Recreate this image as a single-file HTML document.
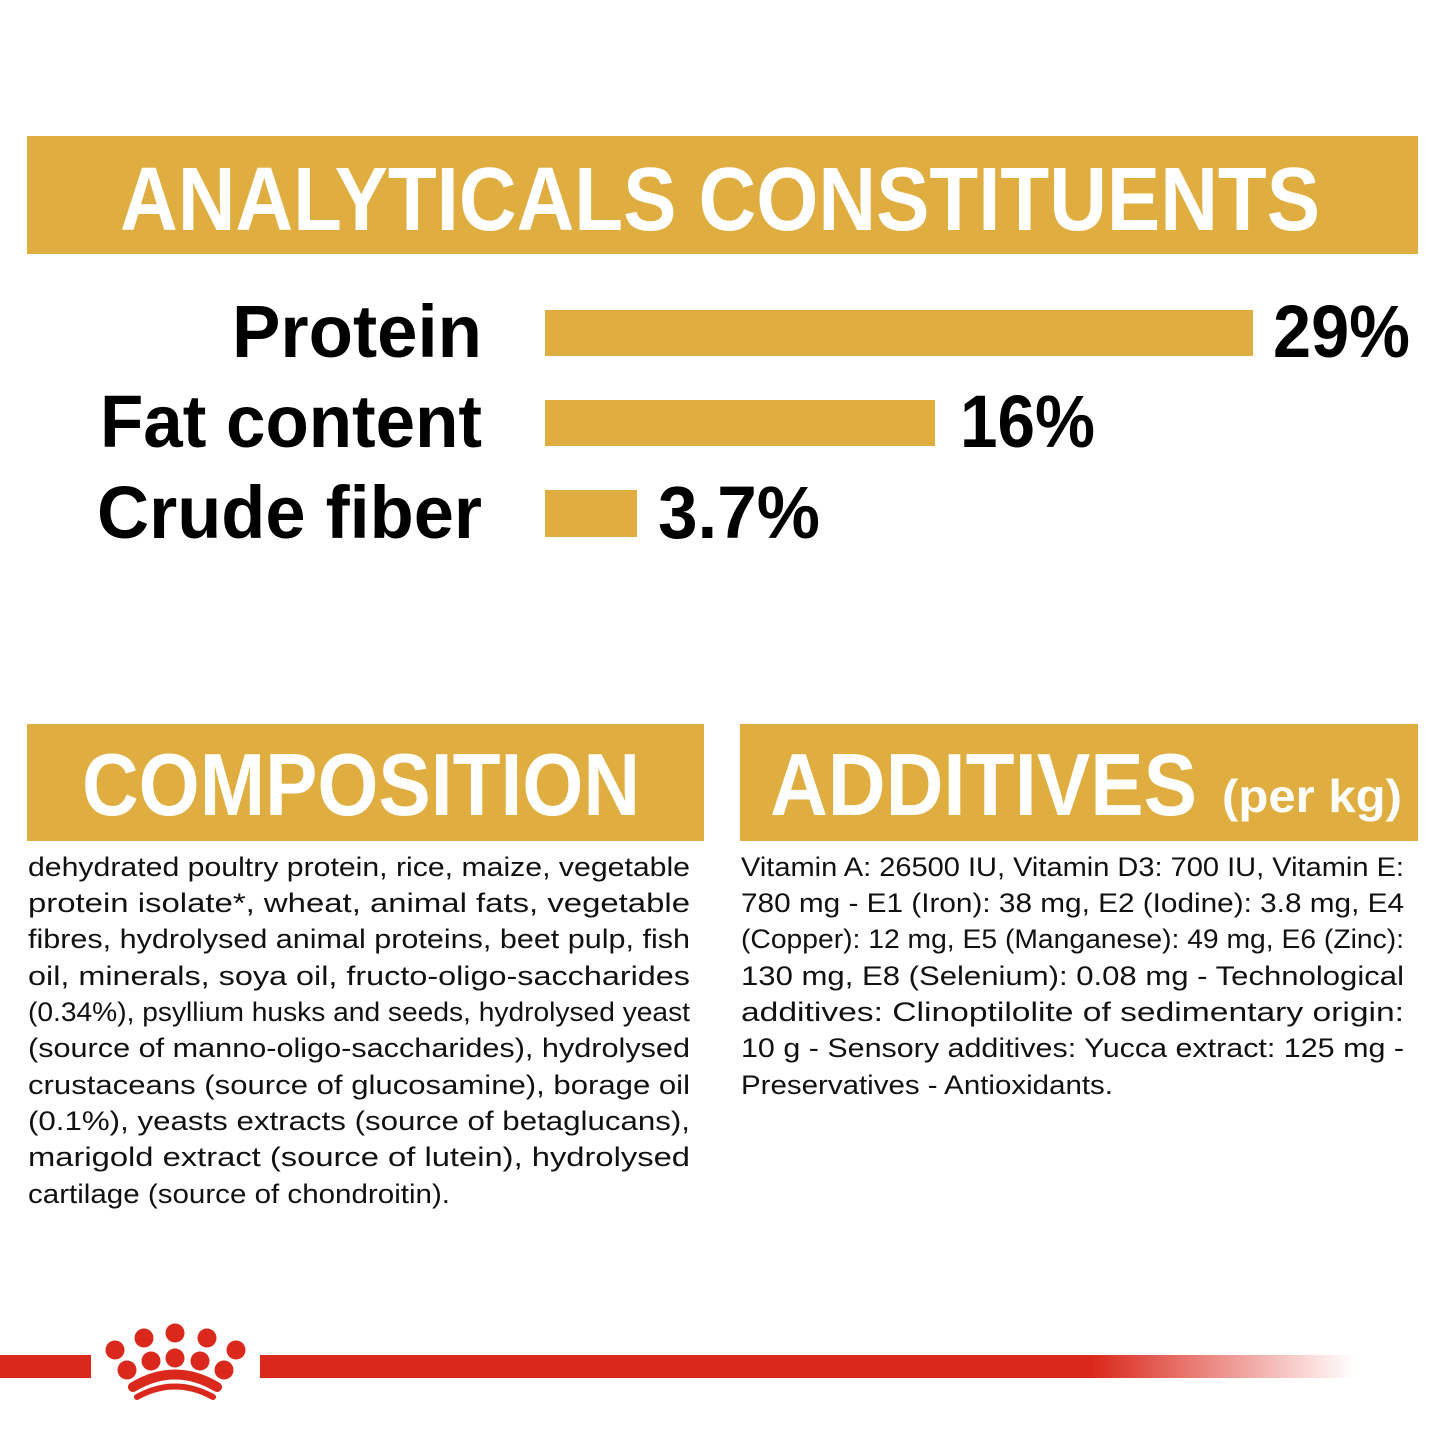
<!DOCTYPE html>
<html><head><meta charset="utf-8"><style>html,body{margin:0;padding:0;background:#fff}svg{display:block}</style></head><body>
<svg width="1445" height="1445" viewBox="0 0 1445 1445" xmlns="http://www.w3.org/2000/svg" font-family="Liberation Sans, sans-serif">
<defs><linearGradient id="g" x1="0" x2="1"><stop offset="0" stop-color="#DA291C"/><stop offset="0.76" stop-color="#DA291C"/><stop offset="1" stop-color="#DA291C" stop-opacity="0"/></linearGradient></defs>
<rect x="27" y="136" width="1391" height="118" fill="#E0AE40"/>
<text x="120" y="230" font-size="90" font-weight="bold" fill="#fff" textLength="1200" lengthAdjust="spacingAndGlyphs">ANALYTICALS CONSTITUENTS</text>
<g font-size="74" font-weight="bold" fill="#000" text-anchor="end">
<text x="482" y="357" textLength="250" lengthAdjust="spacingAndGlyphs">Protein</text>
<text x="482" y="447" textLength="382" lengthAdjust="spacingAndGlyphs">Fat content</text>
<text x="482" y="538" textLength="385" lengthAdjust="spacingAndGlyphs">Crude fiber</text>
</g>
<rect x="545" y="310" width="708" height="46" fill="#E0AE40"/>
<rect x="545" y="400" width="390" height="46" fill="#E0AE40"/>
<rect x="545" y="490" width="92" height="47" fill="#E0AE40"/>
<g font-size="74" font-weight="bold" fill="#000">
<text x="1273" y="357" textLength="137" lengthAdjust="spacingAndGlyphs">29%</text>
<text x="960" y="447" textLength="135" lengthAdjust="spacingAndGlyphs">16%</text>
<text x="658" y="538" textLength="162" lengthAdjust="spacingAndGlyphs">3.7%</text>
</g>
<rect x="27" y="724" width="677" height="117" fill="#E0AE40"/>
<rect x="740" y="724" width="678" height="117" fill="#E0AE40"/>
<g font-weight="bold" fill="#fff">
<text x="82" y="815" font-size="88" textLength="558" lengthAdjust="spacingAndGlyphs">COMPOSITION</text>
<text x="770" y="815" font-size="88" textLength="427" lengthAdjust="spacingAndGlyphs">ADDITIVES</text>
<text x="1222" y="812" font-size="46" textLength="180" lengthAdjust="spacingAndGlyphs">(per kg)</text>
</g>
<g font-size="27" fill="#111" lengthAdjust="spacingAndGlyphs">
<text x="28" y="876" textLength="662" lengthAdjust="spacingAndGlyphs">dehydrated poultry protein, rice, maize, vegetable</text>
<text x="28" y="912" textLength="662" lengthAdjust="spacingAndGlyphs">protein isolate*, wheat, animal fats, vegetable</text>
<text x="28" y="948" textLength="662" lengthAdjust="spacingAndGlyphs">fibres, hydrolysed animal proteins, beet pulp, fish</text>
<text x="28" y="985" textLength="662" lengthAdjust="spacingAndGlyphs">oil, minerals, soya oil, fructo-oligo-saccharides</text>
<text x="28" y="1021" textLength="662" lengthAdjust="spacingAndGlyphs">(0.34%), psyllium husks and seeds, hydrolysed yeast</text>
<text x="28" y="1057" textLength="662" lengthAdjust="spacingAndGlyphs">(source of manno-oligo-saccharides), hydrolysed</text>
<text x="28" y="1094" textLength="662" lengthAdjust="spacingAndGlyphs">crustaceans (source of glucosamine), borage oil</text>
<text x="28" y="1130" textLength="662" lengthAdjust="spacingAndGlyphs">(0.1%), yeasts extracts (source of betaglucans),</text>
<text x="28" y="1166" textLength="662" lengthAdjust="spacingAndGlyphs">marigold extract (source of lutein), hydrolysed</text>
<text x="28" y="1203" textLength="422" lengthAdjust="spacingAndGlyphs">cartilage (source of chondroitin).</text>
<text x="741" y="876" textLength="663" lengthAdjust="spacingAndGlyphs">Vitamin A: 26500 IU, Vitamin D3: 700 IU, Vitamin E:</text>
<text x="741" y="912" textLength="663" lengthAdjust="spacingAndGlyphs">780 mg - E1 (Iron): 38 mg, E2 (Iodine): 3.8 mg, E4</text>
<text x="741" y="948" textLength="663" lengthAdjust="spacingAndGlyphs">(Copper): 12 mg, E5 (Manganese): 49 mg, E6 (Zinc):</text>
<text x="741" y="985" textLength="663" lengthAdjust="spacingAndGlyphs">130 mg, E8 (Selenium): 0.08 mg - Technological</text>
<text x="741" y="1021" textLength="663" lengthAdjust="spacingAndGlyphs">additives: Clinoptilolite of sedimentary origin:</text>
<text x="741" y="1057" textLength="663" lengthAdjust="spacingAndGlyphs">10 g - Sensory additives: Yucca extract: 125 mg -</text>
<text x="741" y="1094" textLength="372" lengthAdjust="spacingAndGlyphs">Preservatives - Antioxidants.</text>
</g>
<rect x="0" y="1355" width="91" height="23" fill="#DA291C"/>
<rect x="260" y="1355" width="1095" height="23" fill="url(#g)"/>
<g fill="#DA291C">
<circle cx="115" cy="1350" r="9.5"/><circle cx="144" cy="1338" r="9.5"/><circle cx="175" cy="1333" r="9.5"/><circle cx="207" cy="1338" r="9.5"/><circle cx="236" cy="1350" r="9.5"/>
<circle cx="127" cy="1370" r="9.5"/><circle cx="151" cy="1361" r="9.5"/><circle cx="175" cy="1358" r="9.5"/><circle cx="200" cy="1361" r="9.5"/><circle cx="224" cy="1370" r="9.5"/>
</g>
<path d="M133 1387 Q175 1362 217 1387" stroke="#DA291C" stroke-width="10" fill="none" stroke-linecap="round"/>
<path d="M137 1397 Q175 1376 213 1397" stroke="#DA291C" stroke-width="6" fill="none" stroke-linecap="round"/>
</svg>
</body></html>
